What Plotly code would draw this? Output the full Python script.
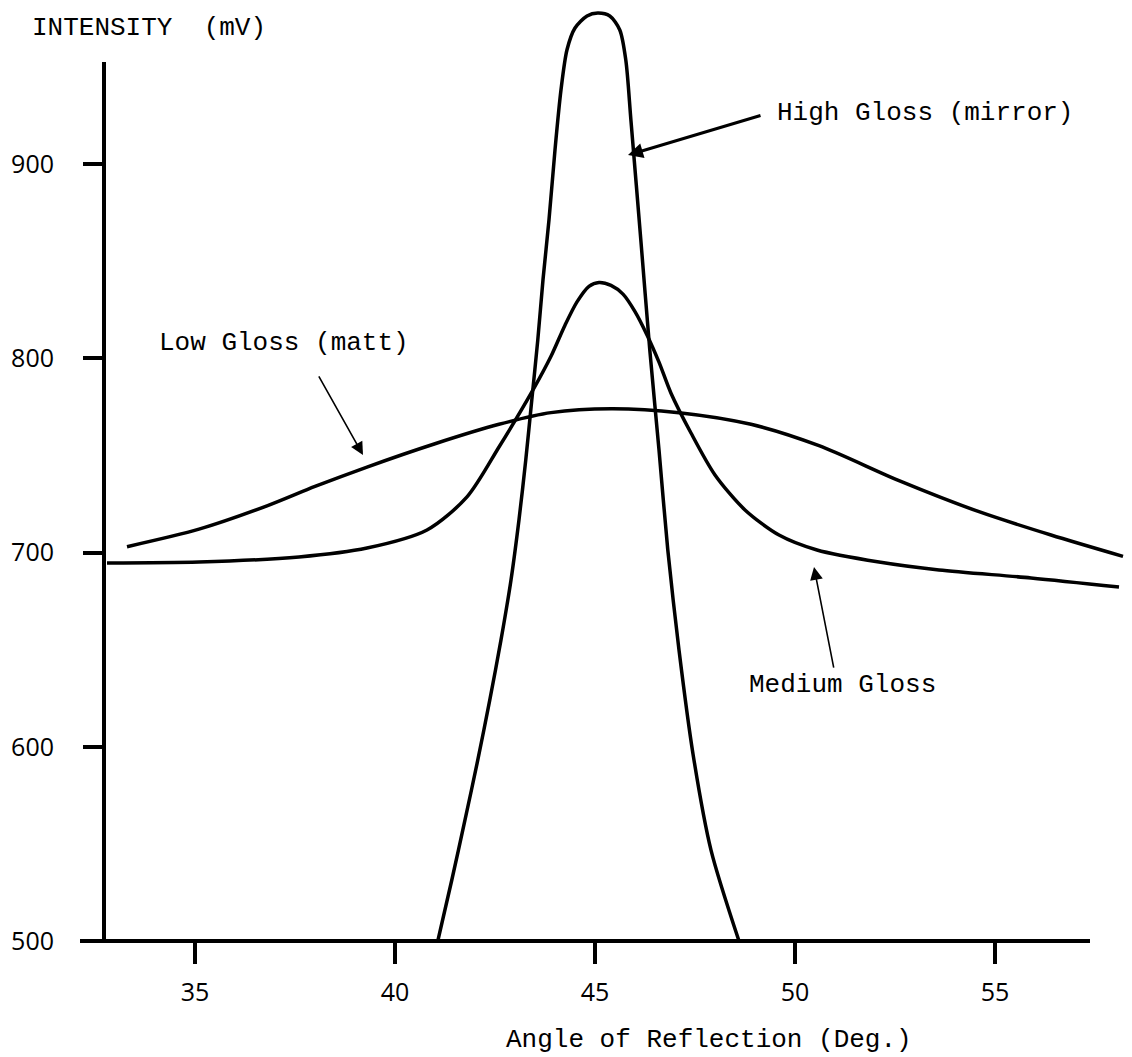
import plotly.graph_objects as go

# ---- data ----
low_angle = [33.3, 35.1, 36.8, 38.0, 39.3, 41.0, 42.6, 43.9, 45.4, 47.1, 48.9, 50.6, 52.6, 54.6, 56.4, 58.2]
low_mv    = [703, 712, 724, 734, 744, 756, 766, 772, 774, 772, 766, 755, 737, 721, 709, 698]

med_angle = [32.8, 35.1, 37.6, 39.3, 40.8, 41.8, 42.6, 43.45, 43.9, 44.25, 44.55, 44.85, 45.1, 45.4,
             45.7, 46.0, 46.3, 46.6, 46.9, 47.4, 48.0, 48.75, 49.6, 50.55, 52.1, 53.6, 55.9, 58.1]
med_mv    = [694.6, 695.1, 697.7, 702.3, 711.6, 728.6, 754.3, 783.7, 801.0, 817.0, 829.0, 837.0, 839.0,
             837.5, 833.0, 824.0, 812.0, 798.0, 782.0, 761.5, 739.9, 721.9, 709.0, 701.3, 695.1,
             691.0, 686.9, 682.2]

high_angle = [41.07, 41.42, 41.75, 42.07, 42.37, 42.65, 42.9, 43.1, 43.27, 43.42, 43.57, 43.7, 43.85,
              44.0, 44.15, 44.3, 44.5, 44.8, 45.07, 45.37, 45.62, 45.77, 45.9, 46.15, 46.37, 46.6,
              46.82, 47.1, 47.45, 47.9, 48.6]
high_mv    = [500, 531.4, 562.3, 593.2, 624.1, 655.0, 685.9, 716.9, 747.8, 778.6, 809.5, 840.4, 871.3,
              907.3, 938.2, 958.8, 970.0, 976.2, 977.7, 976.2, 969.0, 953.5, 922.1, 859.8, 804.2,
              752.8, 701.3, 649.8, 596.3, 546.8, 500]

x_ticks = [35, 40, 45, 50, 55]
x_tick_text = ["35", "40", "45", "50", "55"]
y_ticks = [500, 600, 700, 800, 900]
y_tick_text = ["500", "600", "700", "800", "900"]

x_title = "Angle of Reflection (Deg.)"
y_title = "INTENSITY  (mV)"
label_low = "Low Gloss (matt)"
label_med = "Medium Gloss"
label_high = "High Gloss (mirror)"

MONO = "Courier New, Liberation Mono, monospace"
SANS = "Open Sans, Noto Sans, sans-serif"

fig = go.Figure()
line_style = dict(color="black", width=3.5, shape="spline", smoothing=0.8)
for xs, ys in [(low_angle, low_mv), (med_angle, med_mv), (high_angle, high_mv)]:
    fig.add_trace(go.Scatter(x=xs, y=ys, mode="lines", line=line_style,
                             showlegend=False, hoverinfo="skip"))

W, H = 1132, 1057
L, R, T, B = 104, 7, 0, 116
plot_w = W - L - R
plot_h = H - T - B
px_per_deg = 40.0
px_per_mv = 1.9425
x0 = 45 - (595 - L) / px_per_deg
x1 = x0 + plot_w / px_per_deg
y0 = 500
y1 = 500 + plot_h / px_per_mv

def px_x(p):
    return (p - L) / plot_w

def px_y(p):
    return (H - B - p) / plot_h

shapes = [
    dict(type="line", xref="paper", yref="paper", x0=px_x(80), x1=px_x(1090), y0=0, y1=0,
         line=dict(color="black", width=4)),
    dict(type="line", xref="paper", yref="paper", x0=0, x1=0, y0=0, y1=px_y(62),
         line=dict(color="black", width=4)),
]

annotations = [
    dict(text=y_title, xref="paper", yref="paper", x=px_x(30), y=px_y(28),
         xanchor="left", yanchor="middle", showarrow=False,
         font=dict(family=MONO, size=26, color="black")),
    dict(text=x_title, xref="paper", yref="paper", x=px_x(709), y=px_y(1040),
         xanchor="center", yanchor="middle", showarrow=False,
         font=dict(family=MONO, size=26, color="black")),
    dict(text=label_low, x=34.05, y=807.8, xanchor="left", yanchor="middle", showarrow=False,
         font=dict(family=MONO, size=26, color="black")),
    dict(text=label_med, x=48.8, y=632, xanchor="left", yanchor="middle", showarrow=False,
         font=dict(family=MONO, size=26, color="black")),
    dict(text=label_high, x=49.5, y=926.3, xanchor="left", yanchor="middle", showarrow=False,
         font=dict(family=MONO, size=26, color="black")),
    dict(text="", x=39.2, y=750.2, ax=38.075, ay=791.4, axref="x", ayref="y",
         showarrow=True, arrowhead=2, arrowsize=1.6, arrowwidth=1.6, arrowcolor="black"),
    dict(text="", x=50.475, y=692.5, ax=50.975, ay=640.0, axref="x", ayref="y",
         showarrow=True, arrowhead=2, arrowsize=1.6, arrowwidth=1.6, arrowcolor="black"),
    dict(text="", x=45.825, y=904.6, ax=49.175, ay=925.2, axref="x", ayref="y",
         showarrow=True, arrowhead=2, arrowsize=1.0, arrowwidth=3, arrowcolor="black"),
]

fig.update_layout(
    width=W, height=H,
    margin=dict(l=L, r=R, t=T, b=B, pad=0),
    paper_bgcolor="white", plot_bgcolor="white",
    showlegend=False,
    shapes=shapes,
    annotations=annotations,
    xaxis=dict(range=[x0, x1], tickvals=x_ticks, ticktext=x_tick_text,
               ticks="outside", ticklen=22, tickwidth=3.5, tickcolor="black",
               tickfont=dict(family=SANS, size=25, color="black"),
               ticklabelstandoff=7,
               showline=False, showgrid=False, zeroline=False, fixedrange=True),
    yaxis=dict(range=[y0, y1], tickvals=y_ticks, ticktext=y_tick_text,
               ticks="outside", ticklen=20, tickwidth=4, tickcolor="black",
               tickfont=dict(family=SANS, size=25, color="black"),
               ticklabelstandoff=24,
               showline=False, showgrid=False, zeroline=False, fixedrange=True),
)

fig.write_html("out.html")
